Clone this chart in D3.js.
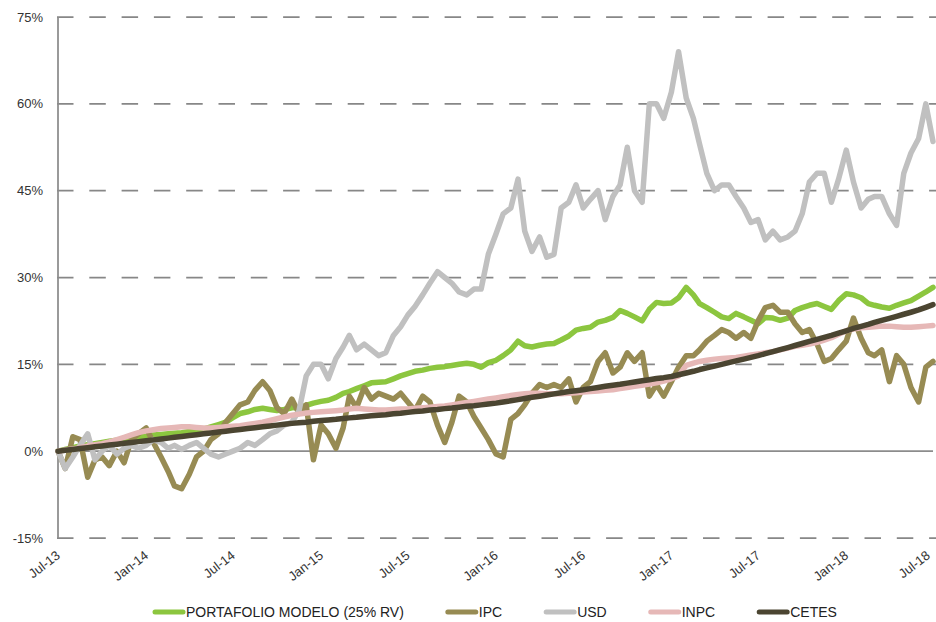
<!DOCTYPE html>
<html>
<head>
<meta charset="utf-8">
<script src="https://cdn.jsdelivr.net/npm/d3@7"></script>
<style>
  body { margin: 0; background: #fff; }
  svg { display: block; font-family: "Liberation Sans", Arial, sans-serif; }
  .tick-label { font-size: 13px; fill: #333; }
  .legend-label { font-size: 14px; fill: #222; }
</style>
</head>
<body>
<svg id="chart" width="936" height="622"></svg>
<script>
// half-month observations, Jul-2013 .. Jul-2018 (1st and 16th of each month)
var seriesNames = ["PORTAFOLIO MODELO (25% RV)", "IPC", "USD", "INPC", "CETES"];
var seriesColors = ["#8cc63f", "#978b53", "#c0c0c0", "#e6b8b7", "#4b4531"];

var portafolio = [0,0.3,0.6,0.9,1.1,1.3,1.5,1.7,1.9,2.0,2.2,2.4,2.6,2.8,2.9,3.0,3.1,3.2,3.4,3.6,
  3.8,4.2,4.6,5.0,5.8,6.5,6.8,7.2,7.4,7.2,7.0,7.2,7.5,7.6,7.9,8.3,8.6,8.8,9.3,10.0,
  10.3,10.8,11.3,11.8,11.9,12.0,12.5,13.0,13.4,13.8,14.0,14.3,14.5,14.6,14.8,15.0,15.2,15.0,14.5,15.3,
  15.7,16.5,17.5,19.0,18.2,18.0,18.3,18.5,18.6,19.2,19.9,20.9,21.2,21.4,22.3,22.6,23.1,24.3,23.8,23.2,
  22.5,24.5,25.7,25.5,25.6,26.5,28.3,27.0,25.5,24.8,24.0,23.2,22.9,23.8,23.2,22.6,22.0,23.1,23.0,22.6,
  23.0,24.3,24.8,25.2,25.5,25.0,24.5,26.0,27.2,27.0,26.5,25.5,25.2,24.9,24.7,25.2,25.6,26.0,26.8,27.5,28.3];

var ipc = [0,-3,2.5,2,-4.5,-1.5,-1,-2.5,0,-2,2,3,4,1.5,-1,-3.5,-6,-6.5,-4,-1,
  0,2,3,5,6.5,8,8.5,10.5,12,10.5,7.5,6.5,9,6.5,8,-1.5,4.5,3,0.5,4,
  9.5,7.5,11,9,10,9.5,9,10,8.5,7,9.5,8.5,4.5,1.5,5,9.5,8.5,6,4,2,
  -0.5,-1,5.5,6.5,8,10,11.5,11,11.5,11,12.5,8.5,11,12,15.5,17,13.5,14.5,17,15.5,
  17,9.5,11.5,9.5,12,14.5,16.5,16.5,17.5,19,20,21,20.5,19.5,20.5,19.5,22.5,24.8,25.2,24,
  24,22,20.5,21,18.5,15.5,16,17.5,19,23,19.5,17,16.5,17.5,12,16.5,15,11,8.5,14.5,15.5];

var usd = [0,-3,-1,1,3,-1.5,0,1,-0.5,0.5,1,0.5,1,2,1.5,0.5,1,0.3,1,1.5,
  0.5,-0.5,-1,-0.5,0,0.5,1.5,1,2,3,3.5,4.5,5,7,13,15,15,12.5,16,18,
  20,17.5,18.5,17.5,16.5,17,20,21.5,23.5,25,27,29,31,30,29,27.5,27,28,28,34,
  37.5,41,42,47,38,34.5,37,33.5,34,42,43,46,42,43.5,45,40,44,46,52.5,45,
  43,60,60,57.5,62,69,61,57.5,53,48,45,46,46,44,42,39.5,40,36.5,38,36.5,
  37,38,41,46.5,48,48,43,47,52,46.5,42,43.5,44,44,41,39,48,51.5,54,60,53.5];

var inpc = [0,0.2,0.4,0.6,0.9,1.1,1.3,1.6,2.0,2.4,2.8,3.2,3.5,3.7,3.9,4.0,4.1,4.2,4.2,4.1,
  4.0,4.0,4.1,4.2,4.3,4.4,4.6,4.8,5.0,5.3,5.6,5.9,6.2,6.4,6.6,6.7,6.8,6.9,7.0,7.1,
  7.3,7.4,7.3,7.2,7.1,7.1,7.2,7.3,7.3,7.4,7.5,7.6,7.7,7.8,8.0,8.2,8.4,8.6,8.8,9.0,
  9.2,9.4,9.6,9.8,9.9,10.0,10.0,9.9,9.9,9.9,10.0,10.1,10.2,10.3,10.4,10.5,10.6,10.8,11.0,11.2,
  11.4,11.6,11.8,12.1,12.5,13.0,14.8,15.2,15.5,15.7,15.9,16.0,16.1,16.2,16.4,16.6,16.8,17.0,17.2,17.5,
  17.8,18.1,18.3,18.5,18.8,19.2,19.6,20.2,20.8,21.1,21.3,21.4,21.5,21.6,21.6,21.5,21.4,21.4,21.5,21.6,21.7];

var cetes = [0,0.15,0.3,0.45,0.6,0.75,0.9,1.05,1.2,1.35,1.5,1.65,1.8,1.95,2.1,2.25,2.4,2.55,2.7,2.85,
  3.0,3.15,3.3,3.45,3.6,3.75,3.9,4.05,4.2,4.35,4.5,4.65,4.8,4.9,5.0,5.15,5.3,5.4,5.5,5.65,
  5.75,5.85,6.0,6.1,6.2,6.3,6.45,6.55,6.7,6.85,6.95,7.1,7.2,7.35,7.45,7.6,7.75,7.85,8.0,8.15,
  8.3,8.5,8.7,8.9,9.1,9.3,9.5,9.7,9.9,10.1,10.3,10.45,10.6,10.8,11.0,11.2,11.4,11.55,11.75,11.95,
  12.15,12.35,12.55,12.7,12.9,13.2,13.5,13.8,14.1,14.4,14.7,15.0,15.3,15.6,15.9,16.2,16.5,16.85,17.2,17.55,
  17.9,18.25,18.6,18.95,19.3,19.65,20.0,20.4,20.8,21.2,21.55,21.9,22.25,22.6,22.95,23.3,23.65,24.0,24.4,24.85,25.3];

var yTicks = [-15, 0, 15, 30, 45, 60, 75];
var xTickLabels = ["Jul-13","Jan-14","Jul-14","Jan-15","Jul-15","Jan-16","Jul-16","Jan-17","Jul-17","Jan-18","Jul-18"];

var dates = portafolio.map(function(d, i) {
  return new Date(2013, 6 + Math.floor(i / 2), i % 2 ? 16 : 1);
});
var allSeries = [portafolio, ipc, usd, inpc, cetes];

var svg = d3.select("#chart");
var plotL = 58, plotR = 933, plotT = 17, plotB = 538;

var x = d3.scaleTime()
  .domain([new Date(2013, 6, 1), new Date(2018, 6, 1)])
  .range([plotL, plotR]);
var y = d3.scaleLinear().domain([-15, 75]).range([plotB, plotT]);

// gridlines
svg.append("g").selectAll("line")
  .data(yTicks.filter(function(t) { return t !== 0; }))
  .enter().append("line")
    .attr("x1", plotL - 1).attr("x2", 936)
    .attr("y1", function(d) { return y(d); })
    .attr("y2", function(d) { return y(d); })
    .attr("stroke", "#878787")
    .attr("stroke-width", 1.75)
    .attr("stroke-dasharray", "16.5,15.8");

// zero line and y axis
svg.append("line")
  .attr("x1", plotL).attr("x2", plotR)
  .attr("y1", y(0)).attr("y2", y(0))
  .attr("stroke", "#8c8c8c").attr("stroke-width", 1.75);
svg.append("line")
  .attr("x1", plotL).attr("x2", plotL)
  .attr("y1", plotT).attr("y2", plotB)
  .attr("stroke", "#8c8c8c").attr("stroke-width", 1.75);

// y labels
svg.append("g").selectAll("text")
  .data(yTicks)
  .enter().append("text")
    .attr("class", "tick-label")
    .attr("x", 43)
    .attr("y", function(d) { return y(d); })
    .attr("dy", "0.35em")
    .attr("text-anchor", "end")
    .text(function(d) { return d + "%"; });

// x labels
var xTickDates = x.ticks(d3.timeMonth.every(6));
svg.append("g").selectAll("text")
  .data(xTickDates)
  .enter().append("text")
    .attr("class", "tick-label")
    .attr("text-anchor", "end")
    .attr("transform", function(d) { return "translate(" + Math.min(x(d) + 3, 931) + ",557) rotate(-38)"; })
    .text(function(d, i) { return xTickLabels[i]; });

// lines
var line = d3.line()
  .x(function(d, i) { return x(dates[i]); })
  .y(function(d) { return y(d); });

svg.append("g").selectAll("path")
  .data(allSeries)
  .enter().append("path")
    .attr("d", line)
    .attr("fill", "none")
    .attr("stroke", function(d, i) { return seriesColors[i]; })
    .attr("stroke-width", 5.5)
    .attr("stroke-linejoin", "round")
    .attr("stroke-linecap", "round");

// legend
var lx = 155, ly = 612;
seriesNames.forEach(function(name, i) {
  svg.append("line")
    .attr("x1", lx).attr("x2", lx + 28)
    .attr("y1", ly).attr("y2", ly)
    .attr("stroke", seriesColors[i])
    .attr("stroke-width", 5)
    .attr("stroke-linecap", "round");
  var t = svg.append("text")
    .attr("class", "legend-label")
    .attr("x", lx + 31).attr("y", ly)
    .attr("dy", "0.36em")
    .text(name);
  lx += 31 + t.node().getComputedTextLength() + 44;
});
</script>
</body>
</html>
